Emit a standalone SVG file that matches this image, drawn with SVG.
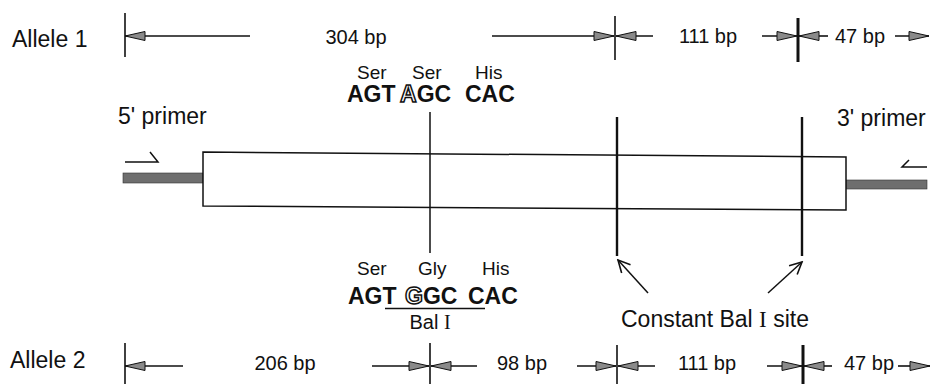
<svg xmlns="http://www.w3.org/2000/svg" width="930" height="384" viewBox="0 0 930 384">
<style>
text{font-family:"Liberation Sans",Arial,sans-serif;fill:#111}
.lab{font-size:23px}
.bp{font-size:20px;text-anchor:middle}
.aa{font-size:19px}
.cod{font-size:23px;font-weight:bold}
.ol{fill:#fff;stroke:#111;stroke-width:1.5}
.rom{font-family:"Liberation Serif","Times New Roman",serif}
.dim{stroke:#111;stroke-width:1.6;fill:none}
.tick{stroke:#111;stroke-width:1.6}
.thick{stroke:#111;stroke-width:3}
.bar{fill:#6e6e6e;stroke:#333;stroke-width:0.6}
.ln{stroke:#111;stroke-width:1.5;fill:none}
</style>
<defs>
<marker id="ah" markerUnits="userSpaceOnUse" markerWidth="22" markerHeight="12" refX="21" refY="6" orient="auto-start-reverse">
<path d="M1,1.5 L21,6 L1,10.5 Z" fill="#8a8a8a" stroke="#111" stroke-width="1"/>
</marker>
<marker id="va" markerUnits="userSpaceOnUse" markerWidth="16" markerHeight="14" refX="14" refY="7" orient="auto">
<path d="M2,1 L14,7 L2,13" fill="none" stroke="#111" stroke-width="1.6"/>
</marker>
</defs>

<g id="gene">
<rect class="bar" x="123" y="173" width="80" height="10"/>
<rect class="bar" x="846" y="180" width="81" height="9"/>
<polygon points="203,152 846,157 846,210 203,206" fill="#fff" stroke="#111" stroke-width="1.5"/>
</g>

<g id="allele1">
<text class="lab" x="12" y="47">Allele 1</text>
<text class="bp" x="356" y="44">304 bp</text>
<text class="bp" x="708" y="43">111 bp</text>
<text class="bp" x="860" y="43">47 bp</text>
</g>

<g id="allele2">
<text class="lab" x="10" y="368">Allele 2</text>
<text class="bp" x="285" y="370">206 bp</text>
<text class="bp" x="522" y="370">98 bp</text>
<text class="bp" x="707" y="370">111 bp</text>
<text class="bp" x="869" y="370">47 bp</text>
</g>

<g id="connectors">
<!-- top dimension row -->
<line class="tick" x1="125" y1="13" x2="125" y2="57"/>
<line class="tick" x1="615" y1="16" x2="615" y2="60"/>
<line class="thick" x1="798" y1="18" x2="798" y2="62"/>
<line class="dim" x1="125" y1="36" x2="250" y2="36" marker-start="url(#ah)"/>
<line class="dim" x1="492" y1="36" x2="614" y2="36" marker-end="url(#ah)"/>
<line class="dim" x1="616" y1="36" x2="653" y2="36" marker-start="url(#ah)"/>
<line class="dim" x1="762" y1="36" x2="797" y2="36" marker-end="url(#ah)"/>
<line class="dim" x1="799" y1="36" x2="828" y2="36" marker-start="url(#ah)"/>
<line class="dim" x1="895" y1="36" x2="929" y2="36" marker-end="url(#ah)"/>
<!-- bottom dimension row -->
<line class="tick" x1="125" y1="343" x2="125" y2="384"/>
<line class="tick" x1="430" y1="343" x2="430" y2="384"/>
<line class="tick" x1="617" y1="345" x2="617" y2="384"/>
<line class="thick" x1="803" y1="345" x2="803" y2="384"/>
<line class="dim" x1="125" y1="366" x2="183" y2="366" marker-start="url(#ah)"/>
<line class="dim" x1="372" y1="366" x2="429" y2="366" marker-end="url(#ah)"/>
<line class="dim" x1="431" y1="366" x2="477" y2="366" marker-start="url(#ah)"/>
<line class="dim" x1="577" y1="366" x2="616" y2="366" marker-end="url(#ah)"/>
<line class="dim" x1="618" y1="366" x2="655" y2="366" marker-start="url(#ah)"/>
<line class="dim" x1="767" y1="366" x2="802" y2="366" marker-end="url(#ah)"/>
<line class="dim" x1="804" y1="366" x2="832" y2="366" marker-start="url(#ah)"/>
<line class="dim" x1="898" y1="366" x2="930" y2="366" marker-end="url(#ah)"/>
<!-- site lines -->
<line class="ln" x1="430" y1="112" x2="430" y2="253"/>
<line class="thick" style="stroke-width:2.4" x1="617" y1="117" x2="617" y2="256"/>
<line class="thick" style="stroke-width:2.4" x1="802" y1="117" x2="802" y2="256"/>
<!-- constant site arrows -->
<line class="ln" x1="648" y1="293" x2="618" y2="260" marker-end="url(#va)"/>
<line class="ln" x1="768" y1="293" x2="802" y2="262" marker-end="url(#va)"/>
<!-- primer arrows -->
<polyline class="ln" points="125,162 158,162 150,152"/>
<polyline class="ln" points="927,167 902,167 909,160"/>
</g>

<g id="primers">
<text class="lab" x="118" y="124">5' primer</text>
<text class="lab" x="837" y="126">3' primer</text>
</g>

<g id="codons1">
<text class="aa" x="357" y="79">Ser</text>
<text class="aa" x="412" y="79">Ser</text>
<text class="aa" x="475" y="79">His</text>
<text class="cod" x="347" y="102">AGT</text>
<text class="cod" x="400" y="102"><tspan class="ol">A</tspan>GC</text>
<text class="cod" x="465" y="102">CAC</text>
</g>

<g id="codons2">
<text class="aa" x="357" y="275">Ser</text>
<text class="aa" x="418" y="275">Gly</text>
<text class="aa" x="482" y="275">His</text>
<text class="cod" x="348" y="304">AGT</text>
<text class="cod" x="405" y="304"><tspan class="ol">G</tspan>GC</text>
<text class="cod" x="468" y="304">CAC</text>
<line x1="385" y1="308.5" x2="485" y2="308.5" stroke="#111" stroke-width="1.3"/>
<text x="430" y="329" style="font-size:20px;text-anchor:middle">Bal <tspan class="rom">I</tspan></text>
</g>

<g id="constant">
<text x="621" y="327" style="font-size:23px">Constant Bal <tspan class="rom">I</tspan> site</text>
</g>
</svg>
